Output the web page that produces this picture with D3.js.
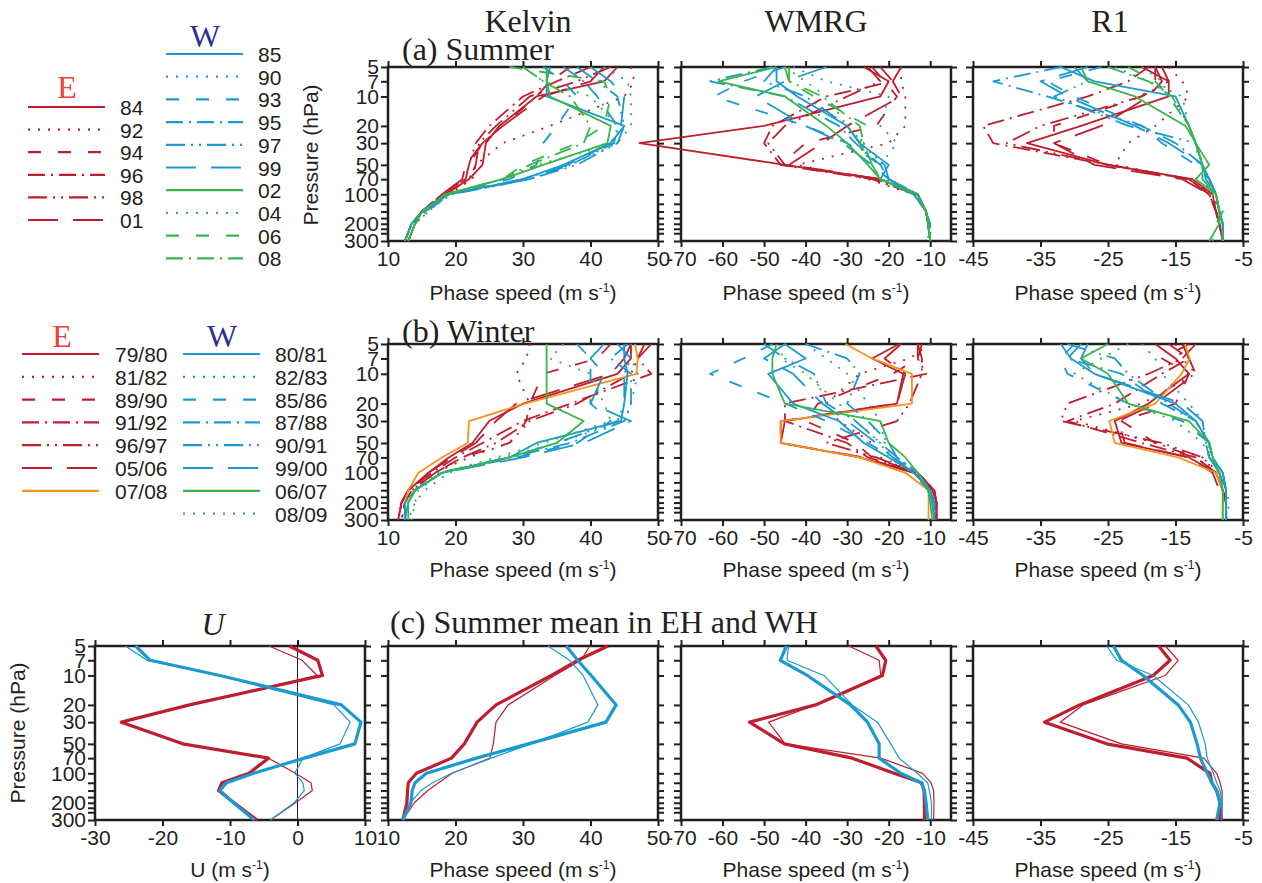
<!DOCTYPE html>
<html>
<head>
<meta charset="utf-8">
<script src="https://cdn.jsdelivr.net/npm/d3@7"></script>
<style>
  body { margin: 0; background: #fff; }
  svg text { font-family: "Liberation Sans", Arial, sans-serif; fill: #231f20; }
  .axis text { font-size: 21px; }
  .axis line { stroke: #231f20; stroke-width: 2; }
  .serif { font-family: "Liberation Serif", "Times New Roman", serif !important; }
</style>
</head>
<body>
<div id="chart"></div>
<script>
// pressure levels (hPa)
const levels = [5, 7, 10, 20, 30, 50, 70, 100, 150, 200, 300];
const levelsC = [5, 7, 10, 20, 30, 50, 70, 100, 125, 150, 200, 300];
const pTicks = [5, 7, 10, 20, 30, 50, 70, 100, 125, 150, 175, 200, 225, 250, 300];
const pLabels = [5, 7, 10, 20, 30, 50, 70, 100, 200, 300];

const kelvinTicks = [10, 20, 30, 40, 50];
const wmrgTicks = [-70, -60, -50, -40, -30, -20, -10];
const r1Ticks = [-45, -35, -25, -15, -5];
const uTicks = [-30, -20, -10, 0, 10];

// legend years
const summerYearsE = ["84", "92", "94", "96", "98", "01"];
const summerYearsW = ["85", "90", "93", "95", "97", "99", "02", "04", "06", "08"];
const winterYearsE = ["79/80", "81/82", "89/90", "91/92", "96/97", "05/06", "07/08"];
const winterYearsW = ["80/81", "82/83", "85/86", "87/88", "90/91", "99/00", "06/07", "08/09"];

// (a) summer, series in legend order (E then W)
const summerKelvin = [
  [44, 42, 32, 26.5, 24.5, 24, 22, 18.5, 15, 14, 13],
  [46, 46.5, 45, 34, 27, 23, 22.5, 19, 15.5, 14, 13],
  [37, 34, 32, 27, 24, 22, 21.5, 18, 15, 13.5, 12.5],
  [40, 35, 30, 25, 23, 22, 21.5, 18, 15, 13.5, 12.5],
  [43, 38, 31, 26, 23.5, 23, 22, 18.5, 15, 14, 13],
  [42, 40, 33, 27, 24, 21.5, 21, 18, 15, 14, 13],
  [34, 33.5, 33.5, 45, 43, 36, 30, 19, 15, 13.5, 12.5],
  [42, 45.5, 46, 46, 44, 37, 30, 19, 16, 14, 13],
  [33, 36, 38, 35, 33, 32, 28, 18.5, 15, 13.5, 12.5],
  [36, 39, 41, 44, 43.5, 37, 31, 19, 15, 13.5, 12.5],
  [38, 41, 44, 45, 44, 38, 31, 19.5, 15.5, 13.5, 12.5],
  [40, 43, 45, 44.5, 43, 36.5, 30, 19, 15, 13.5, 12.5],
  [33.5, 33.5, 34, 43, 42.5, 33, 27, 18.5, 15, 14, 13],
  [30, 33, 40, 44, 44, 32, 27, 19, 16, 14, 13],
  [28, 42, 43, 42, 38, 30, 27, 18.5, 15, 14, 13],
  [30, 33, 37, 40, 39, 31, 27, 18.5, 15, 13.5, 12.5]
];
const summerWMRG = [
  [-26, -20, -22, -50, -80, -45, -22, -13, -11, -10.5, -10],
  [-17, -17, -16, -16, -20, -42, -25, -14, -11, -10, -10],
  [-24, -21, -18, -23, -40, -46, -23, -13, -11, -10.5, -10],
  [-22, -19, -35, -48, -50, -46, -24, -13.5, -11, -10.5, -10],
  [-25, -22, -30, -45, -49, -45, -23, -13, -11, -10.5, -10],
  [-17, -19, -17, -30, -36, -44, -22, -13, -11, -10.5, -10],
  [-47, -47, -42, -30, -27, -20, -22, -14, -11, -10.5, -10],
  [-43, -35, -20, -22, -18, -22, -21, -14, -11, -10.5, -10],
  [-45, -55, -62, -40, -30, -22, -20, -13, -11, -10, -10],
  [-48, -63, -45, -32, -28, -22, -20, -13.5, -11, -10.5, -10],
  [-47, -50, -40, -30, -27, -21, -20, -13, -11, -10.5, -10],
  [-35, -45, -52, -40, -31, -24, -20, -13, -11, -10.5, -10],
  [-47, -61, -45, -35, -30, -25, -22, -13, -11, -10.5, -10],
  [-45, -40, -35, -30, -26, -25, -22, -13.5, -11, -10.5, -10],
  [-45, -44, -38, -25, -27, -24, -22, -13, -11, -10.5, -10],
  [-44, -44, -36, -27, -26, -24, -22, -13, -11, -10.5, -10.5]
];
const summerR1 = [
  [-20, -16, -16, -29, -37, -25, -12.5, -9.5, -9, -8.5, -8],
  [-16, -14, -13, -18, -22, -24, -13, -9.5, -8.5, -8, -8],
  [-18, -18, -20, -33, -33, -25, -13, -10, -9, -8.5, -8],
  [-19, -22, -28, -43.5, -42, -25, -13, -10, -9, -8.5, -8],
  [-17, -16, -20, -35, -40, -25, -13, -10, -9, -8.5, -8],
  [-18, -17, -19, -26, -33, -27, -14, -10, -9, -8.5, -8],
  [-32, -27, -15, -13, -12, -11, -10, -9, -8.5, -8, -8],
  [-24, -19, -14, -13, -12, -11.5, -10, -9, -8.5, -8, -8],
  [-26, -34, -30, -20, -17, -12, -10, -9, -8.5, -8, -8],
  [-32, -42, -34, -20, -15, -11, -10, -9, -8.5, -8, -8],
  [-30, -28, -33, -22, -12, -11, -10, -9, -8.5, -8, -8],
  [-28, -35, -31, -21, -16, -11, -10.5, -9, -8.5, -8, -8],
  [-29, -28, -21, -13.5, -12, -10, -12, -9, -8.5, -8.5, -10],
  [-20, -17, -16, -13, -12, -11, -11, -9.5, -8.5, -8, -8],
  [-22, -18, -16, -13, -12, -11, -11, -9, -8, -9, -9.5],
  [-25, -19, -15.5, -13, -12, -11, -11, -9, -8.5, -8, -8]
];

// (b) winter
const winterKelvin = [
  [46, 46, 44, 30, 25, 22.5, 19, 16, 13, 12, 11.5],
  [31, 30.5, 29, 31, 31, 28, 22, 17, 13.5, 12.5, 12],
  [43, 41, 33, 31, 30.5, 28, 21, 17, 13.5, 12.5, 12],
  [48, 47, 49, 37, 30, 24, 20, 16.5, 13, 12, 11.5],
  [49, 47, 46, 38, 31, 26, 21, 17, 13.5, 12.5, 12],
  [46, 45, 43, 29, 26, 23, 19.5, 16, 13, 12, 11.5],
  [46.6, 47, 46.8, 30.3, 22, 21.8, 18, 14.5, 13, 12.5, 12.5],
  [45, 45, 45.5, 45, 44.5, 32, 28, 18, 14, 13, 12.5],
  [46, 46, 47, 46, 45, 35, 27, 19, 15.5, 14, 13],
  [38, 40, 40, 40, 43, 38, 29, 18, 14, 13, 12.5],
  [45.5, 43, 46, 46, 45, 37, 28, 18, 14, 12.5, 12.5],
  [44, 46, 45, 45, 44, 35, 28, 17.5, 14, 12.5, 12.5],
  [42, 40, 42, 40, 46, 39, 30, 18, 14, 12.5, 12.5],
  [33.5, 33.5, 33.5, 33.5, 39, 35, 28, 18, 14, 13, 13],
  [36, 34, 40, 42, 43, 33, 26, 18, 14.5, 14, 13.5]
];
const winterWMRG = [
  [-17.5, -24, -16.5, -18, -45, -46, -27, -14, -9, -8.5, -8.5],
  [-10, -15, -27, -35, -32, -24, -22, -13, -9.5, -9, -8.5],
  [-12, -13, -19, -37, -40, -28, -24, -13, -9, -8.5, -8.5],
  [-13, -13, -11, -45, -45, -30, -25, -13, -9, -8.5, -8.5],
  [-13, -12, -12, -15, -18, -35, -23, -13, -9, -8.5, -8.5],
  [-17, -21, -16, -18, -46, -46, -26, -14, -9.5, -8.5, -8.5],
  [-30.4, -24, -14.4, -14.4, -46, -46, -27, -16, -10.4, -10.4, -10.4],
  [-45, -40, -49, -43, -32, -26, -20, -14, -10, -9.5, -9],
  [-40, -35, -30, -25, -22, -21, -19, -13, -10, -9.5, -9],
  [-48, -55, -63, -45, -35, -25, -19, -13, -10, -9, -9],
  [-40, -30, -27, -30, -25, -20, -18, -13, -10, -9, -9],
  [-50, -45, -38, -35, -28, -22, -18, -13, -10, -9.5, -9],
  [-45, -50, -43, -36, -30, -23, -19, -14, -10.5, -9.5, -9],
  [-47, -48, -48, -45, -22, -20, -16, -13, -10.5, -10, -9.5],
  [-45, -46, -40, -32, -28, -22, -20, -13, -10, -9.5, -9]
];
const winterR1 = [
  [-18, -15, -13, -19, -24, -23, -13, -9, -8, -7.5, -7.5],
  [-15, -14, -12, -20, -30, -18, -11, -9, -8, -7.5, -7.5],
  [-13, -17, -13, -15, -23, -18, -12, -9, -8, -7.5, -7.5],
  [-16, -13, -17, -24, -31, -20, -12, -9, -8, -7.5, -7.5],
  [-12, -14, -19, -31, -32, -17, -11, -8.5, -8, -7.5, -7.5],
  [-14, -13, -12, -18, -23.5, -22.5, -13, -9.5, -8.5, -7.5, -7.5],
  [-13.6, -12.9, -14.1, -18, -24.8, -24, -14.6, -9, -8, -8, -8],
  [-32, -30.5, -27, -15, -12, -10, -9.5, -8, -7.5, -7.5, -7.5],
  [-20, -18, -17, -13, -11, -10.5, -9.5, -8, -7.5, -7, -7.5],
  [-30, -32, -31, -22, -14, -10, -10, -8, -7.5, -7.5, -7.5],
  [-29, -31, -23, -17, -12, -10, -9.5, -8, -7.5, -7.5, -7.5],
  [-31, -24, -22, -16, -12, -10, -10, -8.5, -7.5, -7.5, -7.5],
  [-28, -29, -27, -14, -11, -10.5, -10, -8.5, -7.5, -7.5, -7.5],
  [-25, -29, -25, -22, -13, -10, -9.5, -8.5, -8, -8, -8],
  [-22, -26, -30, -22, -15, -11, -10, -8.5, -8, -7.5, -7.5]
];

// (c) summer mean: E thick, E thin, W thick, W thin
const meanU = [
  [-1.2, 3.0, 3.7, -16, -26.1, -17, -4.3, -7.2, -11.2, -11.7, -9.4, -6],
  [-4.2, 0.7, 2.9, -16, -26.1, -17, -4.3, -0.3, 2.0, 2.2, -0.3, -4],
  [-24, -21.8, -11.5, 6.5, 9.4, 8.5, 1.0, -6.5, -10.5, -11.5, -9.5, -6.4],
  [-25.5, -22.3, -11.5, 5.4, 7.8, 6.3, 0.8, -0.4, 0.8, 1.0, -0.5, -4]
];
const meanKelvin = [
  [42.6, 38.1, 34.2, 26, 23.2, 21.3, 19.4, 14.2, 13, 12.9, 12.8, 12.2],
  [39.9, 38.6, 34.7, 27.8, 26, 25.6, 25.1, 19.5, 17.5, 15.9, 13.9, 12.2],
  [36.4, 38.1, 40.1, 43.8, 42.3, 30.8, 23.1, 15.7, 14, 13.6, 13.4, 12.2],
  [33.7, 36.9, 38.9, 41.1, 39.6, 31.2, 25.3, 19.4, 16.6, 14.9, 13.3, 12.2]
];
const meanWMRG = [
  [-23.1, -20.7, -21.5, -37.6, -53.5, -45.1, -28.8, -18.7, -12, -11.5, -11.4, -11.4],
  [-29.6, -22.3, -21.9, -37.6, -48.9, -44.9, -21.9, -11.8, -9.8, -9.2, -9.1, -9.2],
  [-44.6, -46.1, -39.6, -29.2, -25.1, -22.3, -22.3, -17.1, -12.2, -11.4, -11, -10.6],
  [-44.1, -44.5, -35.6, -28.8, -22.7, -19.5, -17.5, -13.1, -10.6, -10.2, -9.7, -9.7]
];
const meanR1 = [
  [-17.5, -15.8, -18.3, -29.2, -34.4, -25.2, -13.3, -9.9, -9.6, -8.9, -8.4, -8.4],
  [-16.5, -14.6, -16.5, -28.7, -32.1, -23, -10.8, -8.9, -8.4, -8.1, -8.1, -8.1],
  [-24.2, -23, -19.8, -14.6, -12.8, -11.8, -11.3, -10.3, -9.6, -8.9, -8.4, -8.9],
  [-25.2, -23.7, -18.3, -13.1, -11.6, -10.6, -10.3, -9.4, -8.9, -8.4, -8.1, -8.1]
];

// ---- styles ----
const RED = "#be1e2d", BLUE = "#1b9ad0", GREEN = "#39b54a", ORANGE = "#f7941d";
const dashes = {
  solid: null, dot: "2,8", dash: "13,17", dashdot: "17,6,2,6",
  dashdotdot: "19,6,2,6,2,6", long: "30,15"
};
const sixPatterns = ["solid", "dot", "dash", "dashdot", "dashdotdot", "long"];
const summerStyles = [
  ...sixPatterns.map(p => [RED, p]),
  ...sixPatterns.map(p => [BLUE, p]),
  [GREEN, "solid"], [GREEN, "dot"], [GREEN, "dash"], [GREEN, "dashdot"]
];
const winterStyles = [
  ...sixPatterns.map(p => [RED, p]), [ORANGE, "solid"],
  ...sixPatterns.map(p => [BLUE, p]),
  [GREEN, "solid"], [GREEN, "dot"]
];
const meanStyles = [[RED, "solid"], [RED, "solid"], [BLUE, "solid"], [BLUE, "solid"]];
const meanWidths = [3.2, 1.2, 3.2, 1.2];

const width = 1262, height = 883;
const svg = d3.select("#chart").append("svg")
  .attr("width", width).attr("height", height);

// one panel: frame, mirrored outward ticks
function panel(x0, y0, h, domain, xticks, showY) {
  const w = 270;
  const x = d3.scaleLinear().domain(domain).range([x0, x0 + w]);
  const y = d3.scaleLog().domain([5, 300]).range([y0, y0 + h]);
  const g = svg.append("g");
  const fmtY = d => pLabels.includes(d) ? String(d) : "";

  g.append("g").attr("class", "axis").attr("transform", `translate(${x0},0)`)
    .call(d3.axisLeft(y).tickValues(pTicks).tickSize(7).tickSizeOuter(0).tickPadding(2)
      .tickFormat(showY ? fmtY : ""));
  g.append("g").attr("class", "axis").attr("transform", `translate(${x0 + w},0)`)
    .call(d3.axisRight(y).tickValues(pTicks).tickSize(6).tickSizeOuter(0).tickFormat(""));
  g.append("g").attr("class", "axis").attr("transform", `translate(0,${y0})`)
    .call(d3.axisTop(x).tickValues(xticks).tickSize(6).tickSizeOuter(0).tickFormat(""));
  g.append("g").attr("class", "axis").attr("transform", `translate(0,${y0 + h})`)
    .call(d3.axisBottom(x).tickValues(xticks).tickSize(6).tickSizeOuter(0).tickPadding(4)
      .tickFormat(d => String(d)));
  g.selectAll(".domain").remove();

  g.append("rect")
    .attr("x", x0).attr("y", y0).attr("width", w).attr("height", h)
    .attr("fill", "none").attr("stroke", "#231f20").attr("stroke-width", 2.5);
  return { g, x, y, x0, y0, w, h };
}

function drawSeries(p, data, lv, styles, widths) {
  const line = d3.line().x(d => p.x(d[0])).y(d => p.y(d[1]));
  data.forEach((vals, i) => {
    p.g.append("path")
      .datum(vals.map((v, j) => [v, lv[j]]))
      .attr("d", line)
      .attr("fill", "none")
      .attr("stroke", styles[i][0])
      .attr("stroke-width", widths ? widths[i] : 1.8)
      .attr("stroke-dasharray", dashes[styles[i][1]])
      .attr("stroke-linejoin", "round");
  });
}

function xTitle(cx, y, label) {
  const t = svg.append("text").attr("x", cx).attr("y", y)
    .attr("text-anchor", "middle").style("font-size", "21px");
  t.append("tspan").text(label + " (m s");
  t.append("tspan").attr("dy", -8).style("font-size", "12px").text("-1");
  t.append("tspan").attr("dy", 8).text(")");
}

function yTitle(cx, cy) {
  svg.append("text").attr("transform", `translate(${cx},${cy}) rotate(-90)`)
    .attr("text-anchor", "middle").attr("dy", "0.35em")
    .style("font-size", "21px").text("Pressure (hPa)");
}

function serifText(x, y, txt, anchor, opts = {}) {
  return svg.append("text").attr("class", "serif").attr("x", x).attr("y", y)
    .attr("text-anchor", anchor).style("font-size", (opts.size || 32) + "px")
    .style("font-style", opts.italic ? "italic" : "normal")
    .style("fill", opts.color || "#231f20").text(txt);
}

// ---- rows ----
const colX = [388, 681, 973];
const rowA = { y0: 67, h: 174 }, rowB = { y0: 344, h: 176 }, rowC = { y0: 646, h: 174 };

const pa = [
  panel(colX[0], rowA.y0, rowA.h, [10, 50], kelvinTicks, true),
  panel(colX[1], rowA.y0, rowA.h, [-70, -5], wmrgTicks, false),
  panel(colX[2], rowA.y0, rowA.h, [-45, -5], r1Ticks, false)
];
drawSeries(pa[0], summerKelvin, levels, summerStyles);
drawSeries(pa[1], summerWMRG, levels, summerStyles);
drawSeries(pa[2], summerR1, levels, summerStyles);

const pb = [
  panel(colX[0], rowB.y0, rowB.h, [10, 50], kelvinTicks, true),
  panel(colX[1], rowB.y0, rowB.h, [-70, -5], wmrgTicks, false),
  panel(colX[2], rowB.y0, rowB.h, [-45, -5], r1Ticks, false)
];
drawSeries(pb[0], winterKelvin, levels, winterStyles);
drawSeries(pb[1], winterWMRG, levels, winterStyles);
drawSeries(pb[2], winterR1, levels, winterStyles);

const pu = panel(95, rowC.y0, rowC.h, [-30, 10], uTicks, true);
pu.g.append("line")
  .attr("x1", pu.x(0)).attr("x2", pu.x(0)).attr("y1", rowC.y0).attr("y2", rowC.y0 + rowC.h)
  .attr("stroke", "#231f20").attr("stroke-width", 1);
drawSeries(pu, meanU, levelsC, meanStyles, meanWidths);
const pc = [
  panel(colX[0], rowC.y0, rowC.h, [10, 50], kelvinTicks, false),
  panel(colX[1], rowC.y0, rowC.h, [-70, -5], wmrgTicks, false),
  panel(colX[2], rowC.y0, rowC.h, [-45, -5], r1Ticks, false)
];
drawSeries(pc[0], meanKelvin, levelsC, meanStyles, meanWidths);
drawSeries(pc[1], meanWMRG, levelsC, meanStyles, meanWidths);
drawSeries(pc[2], meanR1, levelsC, meanStyles, meanWidths);

// ---- titles and axis labels ----
serifText(528, 32, "Kelvin", "middle");
serifText(816, 32, "WMRG", "middle");
serifText(1110, 32, "R1", "middle");
serifText(402, 60, "(a) Summer", "start");
serifText(402, 342, "(b) Winter", "start");
serifText(390, 633, "(c) Summer mean in EH and WH", "start");
serifText(213, 635, "U", "middle", { italic: true });

[pa, pb, pc].forEach((row, r) => {
  const ty = [300, 577, 877][r];
  row.forEach(p => xTitle(p.x0 + p.w / 2, ty, "Phase speed"));
});
xTitle(pu.x0 + pu.w / 2, 877, "U");
yTitle(311, 155);
yTitle(18, 733);

// ---- legends ----
function legend(years, styles, offset, x1, x2, yStart, step, labelX) {
  years.forEach((yr, i) => {
    const st = styles[offset + i];
    const yy = yStart + i * step;
    svg.append("line").attr("x1", x1).attr("x2", x2).attr("y1", yy).attr("y2", yy)
      .attr("stroke", st[0]).attr("stroke-width", 2.2)
      .attr("stroke-dasharray", dashes[st[1]]);
    svg.append("text").attr("x", labelX).attr("y", yy + 8)
      .style("font-size", "21px").text(yr);
  });
}
const E_COL = "#ef4136", W_COL = "#2e3192";
serifText(67, 98, "E", "middle", { color: E_COL });
serifText(205, 47, "W", "middle", { color: W_COL });
legend(summerYearsE, summerStyles, 0, 28, 105, 107, 22.6, 120);
legend(summerYearsW, summerStyles, 6, 166, 243, 54, 22.7, 258);

serifText(62, 347, "E", "middle", { color: E_COL });
serifText(222, 347, "W", "middle", { color: W_COL });
legend(winterYearsE, winterStyles, 0, 22, 99, 354, 22.8, 115);
legend(winterYearsW, winterStyles, 7, 183, 260, 354, 22.8, 275);
</script>
</body>
</html>
